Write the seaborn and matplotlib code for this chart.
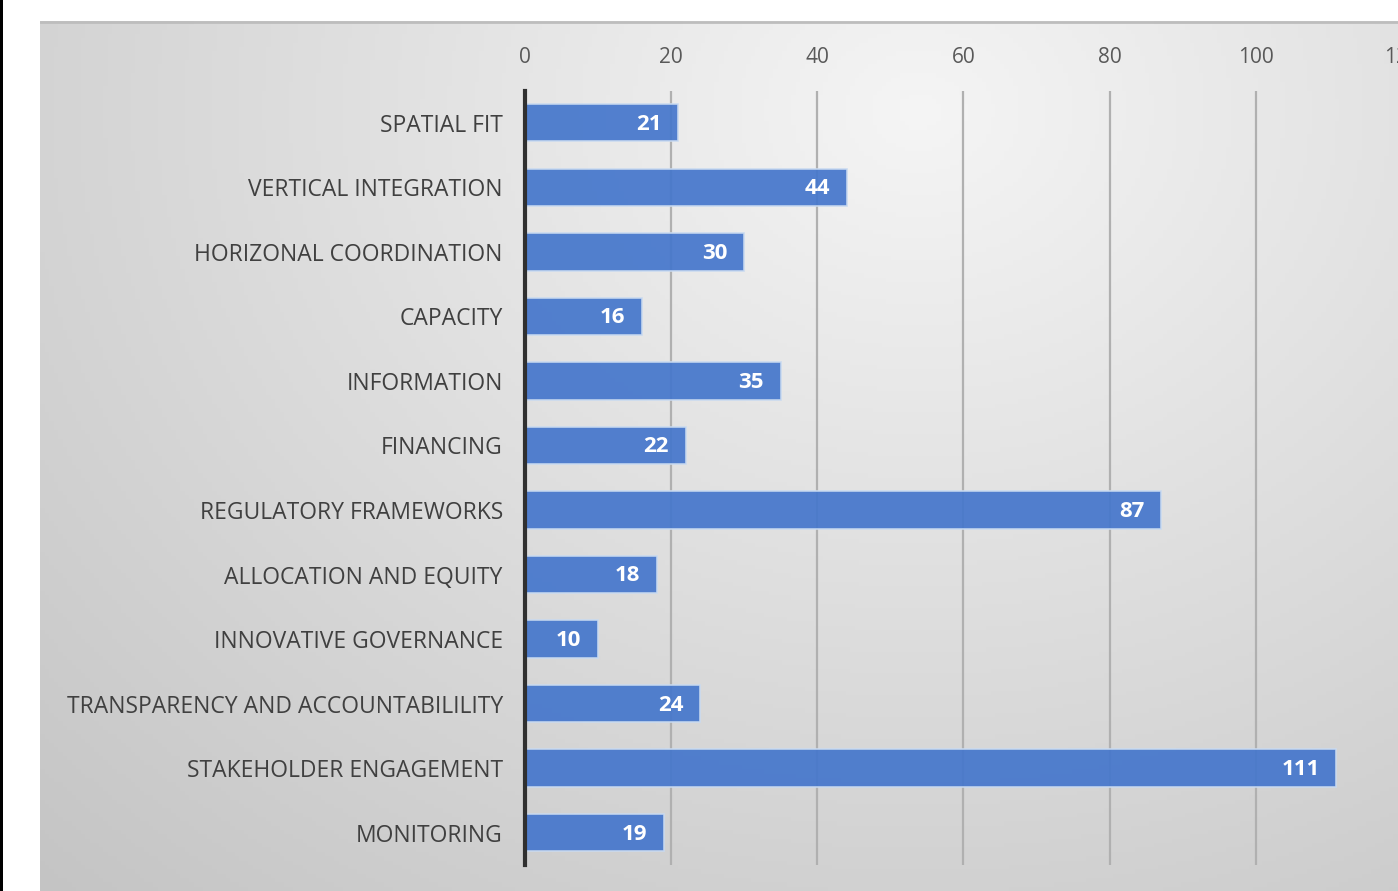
import numpy as np
import pandas as pd
import matplotlib
matplotlib.use("Agg")
import matplotlib.pyplot as plt
import seaborn as sns

categories = ["SPATIAL FIT", "VERTICAL INTEGRATION", "HORIZONAL COORDINATION", "CAPACITY",
              "INFORMATION", "FINANCING", "REGULATORY FRAMEWORKS", "ALLOCATION AND EQUITY",
              "INNOVATIVE GOVERNANCE", "TRANSPARENCY AND ACCOUNTABILILITY",
              "STAKEHOLDER ENGAGEMENT", "MONITORING"]
values = [21, 44, 30, 16, 35, 22, 87, 18, 10, 24, 111, 19]
x_ticks = [0, 20, 40, 60, 80, 100, 120]

sns.set_theme(style="white")
plt.rcParams['font.family'] = ['Open Sans', 'DejaVu Sans']

W, H = 1398, 891
fig = plt.figure(figsize=(W / 100, H / 100), dpi=100)
fig.patch.set_facecolor("white")

# black left strip
strip = fig.add_axes([0, 0, 3 / W, 1])
strip.set_facecolor("black")
strip.set_xticks([]); strip.set_yticks([])
for s in strip.spines.values():
    s.set_visible(False)

# gradient panel
px0, py0 = 40, 21
bg = fig.add_axes([px0 / W, 0, 1 - px0 / W, 1 - py0 / H])
gx = np.linspace(px0, W, 300)
gy = np.linspace(py0, H, 200)
GX, GY = np.meshgrid(gx, gy)
d = np.sqrt(((GX - 920) / 1150) ** 2 + ((GY - 110) / 950) ** 2)
val = 0.96 - 0.17 * np.clip(d, 0, 1.3)
val = np.clip(val, 0.76, 0.96)
bg.imshow(np.dstack([val, val, val]), aspect="auto", extent=[0, 1, 0, 1], origin="upper")
bg.set_xticks([]); bg.set_yticks([])
for s in bg.spines.values():
    s.set_visible(False)
bg.plot([0, 1], [0.999, 0.999], color="#bdbdbd", lw=2, transform=bg.transAxes)

# main axes
ax_left = 525 / W
ax_right = 1402 / W
ax_top = 1 - 90.5 / H
ax_bot = 1 - 865 / H
ax = fig.add_axes([ax_left, ax_bot, ax_right - ax_left, ax_top - ax_bot])
ax.set_facecolor("none")

df = pd.DataFrame({"category": categories, "value": values})
sns.barplot(data=df, x="value", y="category", orient="h", ax=ax,
            color="#4677CC", saturation=1, width=0.58, alpha=0.93,
            edgecolor="#C9DAF0", linewidth=1.2, zorder=3)

ax.set_xlim(0, 120)
ax.set_ylim(len(categories) - 0.5, -0.5)
ax.set_xticks(x_ticks)
ax.xaxis.tick_top()
ax.tick_params(axis="x", length=0, pad=16, labelsize=15, labelcolor="#595959")
ax.tick_params(axis="y", length=0, pad=16, labelsize=16.5, labelcolor="#404040")
ax.set_xlabel(""); ax.set_ylabel("")
ax.grid(axis="x", color="#b0b0b0", lw=1.6, zorder=1)
ax.grid(axis="y", visible=False)
for s in ["top", "right", "bottom"]:
    ax.spines[s].set_visible(False)
ax.spines["left"].set_color("#303030")
ax.spines["left"].set_linewidth(3)
ax.spines["left"].set_zorder(5)

for i, v in enumerate(values):
    ax.annotate(str(v), xy=(v, i), xytext=(-12, -1), textcoords="offset points",
                ha="right", va="center", color="white", fontsize=16,
                fontweight="bold", zorder=6)

fig.savefig("out.png", dpi=100)
